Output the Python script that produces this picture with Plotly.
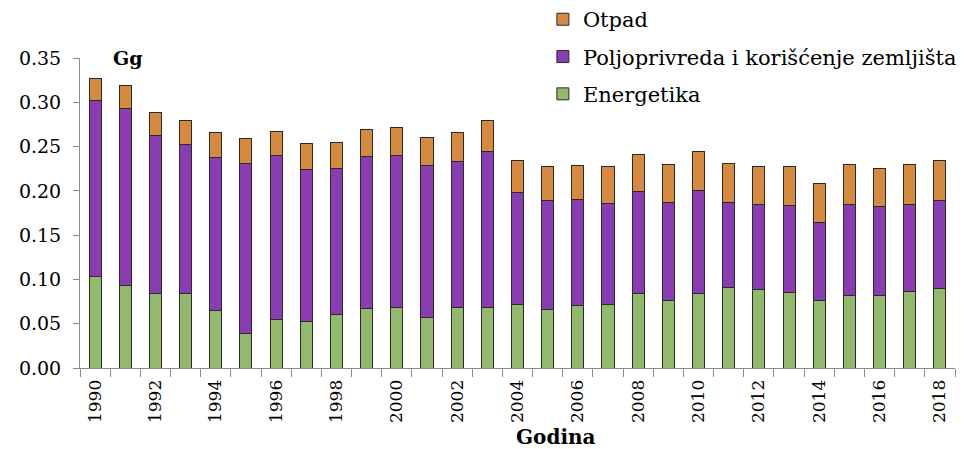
"""Stacked bars of emissions by sector, 1990-2018."""

import plotly.graph_objects as go

years = list(range(1990, 2019))

energetika = [0.103, 0.093, 0.084, 0.084, 0.065, 0.039, 0.055, 0.052, 0.060, 0.067,
              0.068, 0.057, 0.068, 0.068, 0.072, 0.066, 0.071, 0.072, 0.084, 0.076,
              0.084, 0.091, 0.089, 0.085, 0.076, 0.082, 0.082, 0.086, 0.090]
# upper edge of the purple segment
poljo_top = [0.302, 0.293, 0.262, 0.252, 0.238, 0.231, 0.240, 0.224, 0.225, 0.239,
             0.240, 0.229, 0.233, 0.244, 0.198, 0.189, 0.190, 0.186, 0.199, 0.187,
             0.200, 0.187, 0.185, 0.183, 0.164, 0.185, 0.182, 0.185, 0.189]
ukupno = [0.327, 0.319, 0.288, 0.279, 0.266, 0.259, 0.267, 0.254, 0.255, 0.269,
          0.271, 0.260, 0.266, 0.279, 0.234, 0.227, 0.229, 0.227, 0.241, 0.230,
          0.244, 0.231, 0.227, 0.227, 0.208, 0.230, 0.225, 0.230, 0.234]

poljoprivreda = [round(p - e, 3) for p, e in zip(poljo_top, energetika)]
otpad = [round(t - p, 3) for t, p in zip(ukupno, poljo_top)]

FONT = 'DejaVu Serif'

# (name, values, colour, position in legend)
series = [
    ('Energetika', energetika, '#92b96c', 3),
    ('Poljoprivreda i korišćenje zemljišta', poljoprivreda, '#8a3cb2', 2),
    ('Otpad', otpad, '#d68a40', 1),
]

fig = go.Figure()
for name, vals, color, rank in series:
    fig.add_trace(go.Bar(
        x=years, y=vals, name=name, legendgroup=name, legendrank=rank,
        marker=dict(color=color, line=dict(color='#2a2a2a', width=1)),
    ))

# page body has an 8px margin, so the margins below are shifted to compensate
fig.update_layout(
    barmode='stack',
    bargap=0.6,
    width=964, height=449,
    paper_bgcolor='white', plot_bgcolor='white',
    font=dict(family=FONT, color='black', size=17),
    margin=dict(l=72, r=17, t=50, b=89, autoexpand=False),
    legend=dict(
        x=0.529, y=1.19, xref='paper', yref='paper',
        xanchor='left', yanchor='top',
        traceorder='grouped', font=dict(size=21),
        itemwidth=30, tracegroupgap=7, bgcolor='rgba(0,0,0,0)',
    ),
    showlegend=True,
)

fig.update_xaxes(
    range=[1989.5, 2018.5], automargin=False,
    tickvals=years[::2], ticktext=[str(y) for y in years[::2]],
    tickangle=-90, ticks='', showgrid=False, ticklabelstandoff=4,
    showline=True, linecolor='#8c8c8c', linewidth=1,
    minor=dict(tick0=1989.5, dtick=1, ticks='outside', ticklen=8,
               tickcolor='#8c8c8c', showgrid=False),
)

fig.update_yaxes(
    range=[0, 0.35], dtick=0.05, tickformat='.2f', automargin=False,
    ticks='outside', ticklen=6, tickcolor='#8c8c8c', ticklabelstandoff=8,
    showline=True, linecolor='#8c8c8c', linewidth=1, showgrid=False,
    zeroline=False, tickfont=dict(size=19),
)

fig.add_annotation(
    x=0.035, y=1.0, xref='paper', yref='paper', xanchor='left', yanchor='middle',
    text='<b>Gg</b>', showarrow=False, font=dict(size=19),
)
fig.add_annotation(
    x=0.544, y=-0.223, xref='paper', yref='paper', xanchor='center', yanchor='middle',
    text='<b>Godina</b>', showarrow=False, font=dict(size=20),
)

fig.write_html("out.html")
